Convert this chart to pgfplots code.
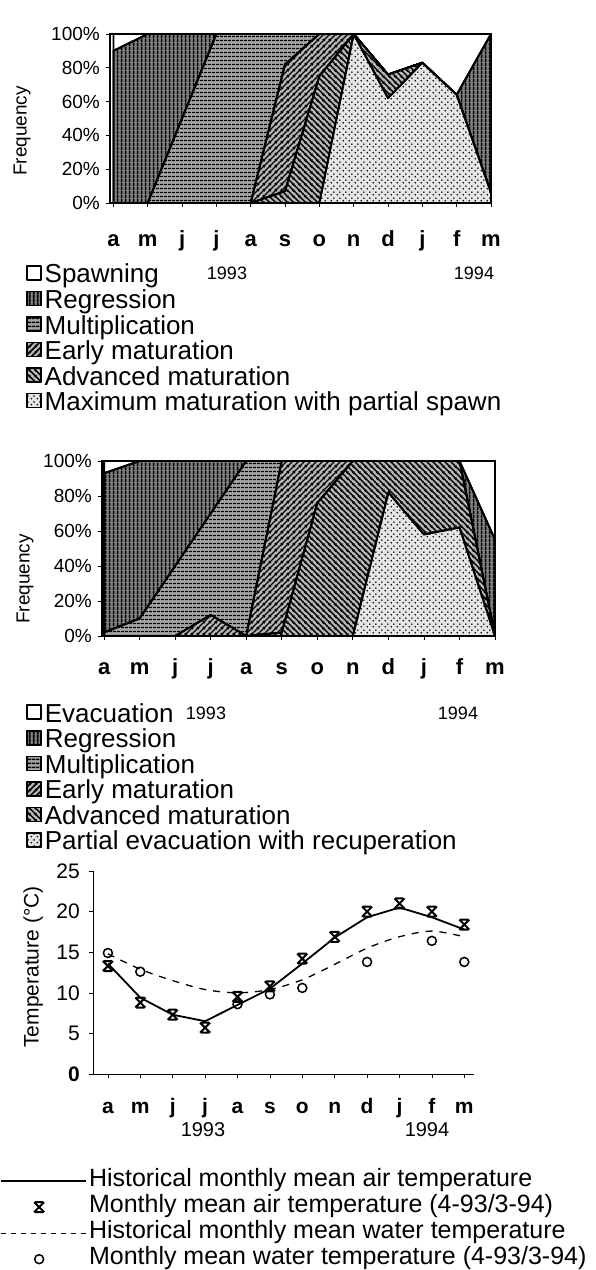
\documentclass[border=0pt]{standalone}
\usepackage{fontspec}
\setmainfont{Liberation Sans}
\usepackage{pgfplots}
\usepackage{pgfplotstable}
\pgfplotsset{compat=1.18}
\usetikzlibrary{patterns}
\newcommand{\fs}[1]{\fontsize{#1}{#1}\selectfont}

\pgfdeclareplotmark{hg}{%
  \pgfpathmoveto{\pgfqpoint{-\pgfplotmarksize}{\pgfplotmarksize}}%
  \pgfpathlineto{\pgfqpoint{\pgfplotmarksize}{-\pgfplotmarksize}}%
  \pgfpathmoveto{\pgfqpoint{\pgfplotmarksize}{\pgfplotmarksize}}%
  \pgfpathlineto{\pgfqpoint{-\pgfplotmarksize}{-\pgfplotmarksize}}%
  \pgfpathmoveto{\pgfqpoint{-0.8\pgfplotmarksize}{\pgfplotmarksize}}%
  \pgfpathlineto{\pgfqpoint{0.8\pgfplotmarksize}{\pgfplotmarksize}}%
  \pgfpathmoveto{\pgfqpoint{-0.8\pgfplotmarksize}{-\pgfplotmarksize}}%
  \pgfpathlineto{\pgfqpoint{0.8\pgfplotmarksize}{-\pgfplotmarksize}}%
  \pgfusepathqstroke}

% hand-made patterns
\pgfdeclarepatternformonly{myvlines}{\pgfqpoint{0pt}{0pt}}{\pgfqpoint{4pt}{4pt}}{\pgfqpoint{4pt}{4pt}}{%
  \pgfpathrectangle{\pgfqpoint{1pt}{-0.2pt}}{\pgfqpoint{2.1pt}{4.4pt}}\pgfusepath{fill}}
\pgfdeclarepatternformonly{myhlines}{\pgfqpoint{0pt}{0pt}}{\pgfqpoint{3.5pt}{3.5pt}}{\pgfqpoint{3.5pt}{3.5pt}}{%
  \pgfpathrectangle{\pgfqpoint{-0.2pt}{1.1pt}}{\pgfqpoint{3.9pt}{1.4pt}}\pgfusepath{fill}}
\pgfdeclarepatternformonly{myne}{\pgfqpoint{0pt}{0pt}}{\pgfqpoint{6pt}{6pt}}{\pgfqpoint{6pt}{6pt}}{%
  \pgfsetlinewidth{1.6pt}%
  \pgfpathmoveto{\pgfqpoint{-1pt}{-1pt}}\pgfpathlineto{\pgfqpoint{7pt}{7pt}}%
  \pgfpathmoveto{\pgfqpoint{-1pt}{5pt}}\pgfpathlineto{\pgfqpoint{1pt}{7pt}}%
  \pgfpathmoveto{\pgfqpoint{5pt}{-1pt}}\pgfpathlineto{\pgfqpoint{7pt}{1pt}}%
  \pgfusepath{stroke}}
\pgfdeclarepatternformonly{mynw}{\pgfqpoint{0pt}{0pt}}{\pgfqpoint{6pt}{6pt}}{\pgfqpoint{6pt}{6pt}}{%
  \pgfsetlinewidth{1.6pt}%
  \pgfpathmoveto{\pgfqpoint{-1pt}{7pt}}\pgfpathlineto{\pgfqpoint{7pt}{-1pt}}%
  \pgfpathmoveto{\pgfqpoint{-1pt}{1pt}}\pgfpathlineto{\pgfqpoint{1pt}{-1pt}}%
  \pgfpathmoveto{\pgfqpoint{5pt}{7pt}}\pgfpathlineto{\pgfqpoint{7pt}{5pt}}%
  \pgfusepath{stroke}}
\pgfdeclarepatternformonly{mydots}{\pgfqpoint{0pt}{0pt}}{\pgfqpoint{6pt}{6pt}}{\pgfqpoint{6pt}{6pt}}{%
  \pgfpathcircle{\pgfqpoint{1.5pt}{1.5pt}}{1pt}%
  \pgfpathcircle{\pgfqpoint{4.5pt}{4.5pt}}{1pt}%
  \pgfusepath{fill}}

\tikzset{
  pWhite/.style={fill=white},
  pRegr/.style={fill=black!50, postaction={pattern=myvlines}},
  pMult/.style={fill=black!35, postaction={pattern=myhlines}},
  pEarly/.style={fill=black!28, postaction={pattern=myne}},
  pAdv/.style={fill=black!28, postaction={pattern=mynw}},
  pDots/.style={fill=black!10, postaction={pattern=mydots}},
}

\pgfplotstableread{
x dots adv early mult regr spawn
0 0 0 0 0 90 10
1 0 0 0 0 100 0
2 0 0 0 50 50 0
3 0 0 0 100 0 0
4 0 0 0 100 0 0
5 0 7 75 18 0 0
6 0 75 25 0 0 0
7 100 0 0 0 0 0
8 62 14 0 0 0 24
9 83 0 0 0 0 17
10 64 0 0 0 0 36
11 6 0 0 0 94 0
}\females

\pgfplotstableread{
x dots adv early mult regr evac
0 0 0 0 2 91 7
1 0 0 0 10 90 0
2 0 0 0 40 60 0
3 0 0 12 58 30 0
4 0 0 0 100 0 0
5 0 2 98 0 0 0
6 0 76 24 0 0 0
7 0 100 0 0 0 0
8 82 18 0 0 0 0
9 58 42 0 0 0 0
10 62 38 0 0 0 0
11 0 0 0 0 55 45
}\males

\pgfplotsset{
  boxleg/.style={legend image code/.code={\draw[##1,line width=1.5pt] (0pt,-2pt) rectangle (14pt,12pt);}},
  lineleg/.style={legend image code/.code={\draw[##1] (0pt,0pt) -- (85pt,0pt);}},
  dashleg/.style={legend image code/.code={\draw[##1, dash pattern=on 5pt off 5pt] (0pt,0pt) -- (85pt,0pt);}},
  markleg/.style={legend image code/.code={\path[draw=none,fill=none] (0pt,0pt) -- (85pt,0pt); \draw[##1] plot coordinates {(38pt,0pt)};}},
  stagechart/.style={
    anchor=south west, scale only axis,
    ymin=0, ymax=100, xmax=11,
    stack plots=y,
    axis on top,
    tick align=outside, tick pos=left,
    major tick length=4pt,
    axis line style={line width=1.3pt},
    every tick/.style={black, line width=0.8pt},
    ytick={0,20,...,100},
    yticklabels={0\%,20\%,40\%,60\%,80\%,100\%},
    yticklabel style={font=\fs{19}, anchor=east, inner sep=0pt, xshift=-6pt},
    xtick={0,...,11},
    xticklabels={a,m,j,j,a,s,o,n,d,j,f,m},
    xticklabel style={font=\fs{22}\bfseries, anchor=base, inner sep=0pt},
    ylabel={Frequency},
    ylabel style={font=\fs{19}, anchor=center, rotate=0},
    legend cell align=left,
    reverse legend,
    boxleg,
    legend style={draw=none, fill=none, inner sep=0pt, font=\fs{26},
      row sep=0.8pt,
      nodes={inner sep=0pt, text height=17pt, text depth=7pt},
      /tikz/every odd column/.append style={column sep=3pt}},
    every axis plot/.append style={mark=none, draw=black, line width=1.8pt, line join=round},
  },
}

\begin{document}
\begin{tikzpicture}
\path[use as bounding box] (0pt,0pt) rectangle (596pt,1270pt);

% ---------------- females ----------------
\begin{axis}[stagechart,
  at={(110pt,1067pt)}, width=381pt, height=169pt, xmin=-0.1,
  xticklabel style={yshift=-40pt},
  ylabel style={at={(axis description cs:-0.231,0.426)}},
  legend style={at={(axis description cs:-0.2205,-0.367)}, anchor=north west},
]
\addplot[pDots] table[x=x,y=dots] {\females} \closedcycle;
\addplot[pAdv] table[x=x,y=adv] {\females} \closedcycle;
\addplot[pEarly] table[x=x,y=early] {\females} \closedcycle;
\addplot[pMult] table[x=x,y=mult] {\females} \closedcycle;
\addplot[pRegr] table[x=x,y=regr] {\females} \closedcycle;
\addplot[pWhite] table[x=x,y=spawn] {\females} \closedcycle;
\legend{Maximum maturation with partial spawn,Advanced maturation,Early maturation,Multiplication,Regression,Spawning}
\node[font=\fs{19}, anchor=center] at (axis description cs:0.1,1.077) {females};
\end{axis}

% ---------------- males ----------------
\begin{axis}[stagechart,
  at={(102pt,634pt)}, width=393pt, height=175pt, xmin=-0.06,
  xticklabel style={yshift=-35pt},
  ylabel style={at={(axis description cs:-0.196,0.326)}},
  legend style={at={(axis description cs:-0.193,-0.39)}, anchor=north west},
]
\addplot[pDots] table[x=x,y=dots] {\males} \closedcycle;
\addplot[pAdv] table[x=x,y=adv] {\males} \closedcycle;
\addplot[pEarly] table[x=x,y=early] {\males} \closedcycle;
\addplot[pMult] table[x=x,y=mult] {\males} \closedcycle;
\addplot[pRegr] table[x=x,y=regr] {\males} \closedcycle;
\addplot[pWhite] table[x=x,y=evac] {\males} \closedcycle;
\legend{Partial evacuation with recuperation,Advanced maturation,Early maturation,Multiplication,Regression,Evacuation}
\node[font=\fs{19}, anchor=center] at (axis description cs:0.079,1.08) {males};
\end{axis}

% ---------------- temperature ----------------
\begin{axis}[
  at={(93pt,196pt)}, anchor=south west, scale only axis,
  width=381pt, height=203pt,
  xmin=-0.46, xmax=11.3, ymin=0, ymax=25,
  axis x line*=bottom, axis y line*=left,
  x axis line style={-, line width=0.5pt},
  y axis line style={-, line width=0.8pt},
  tick align=outside,
  major tick length=4pt,
  every tick/.style={black, line width=0.6pt},
  ytick={0,5,...,25},
  yticklabels={\textbf{0},5,10,15,20,25},
  yticklabel style={font=\fs{21}, anchor=east, inner sep=0pt, xshift=-9pt},
  xtick={0,...,11},
  xticklabels={a,m,j,j,a,s,o,n,d,j,f,m},
  xticklabel style={font=\fs{21}\bfseries, anchor=base, inner sep=0pt, yshift=-35pt},
  ylabel={Temperature (°C)},
  ylabel style={font=\fs{21}, anchor=center, at={(axis description cs:-0.157,0.527)}},
  clip=false,
  legend cell align=left,
  legend style={draw=none, fill=none, inner sep=0pt, font=\fs{25},
    at={(axis description cs:-0.244,-0.463)}, anchor=north west,
    row sep=0pt,
    nodes={inner sep=0pt, text height=18pt, text depth=8pt},
    /tikz/every odd column/.append style={column sep=2pt}},
]
\addplot[black, line width=1.8pt, mark=none, lineleg]
  coordinates {(0,13.6) (1,9.4) (2,7.3) (3,6.5) (4,8.5) (5,10.5) (6,13.6) (7,16.8) (8,19.3) (9,20.5) (10,19.3) (11,17.8)};
\addplot[black, only marks, mark=hg, mark size=5pt, line width=2pt, markleg]
  coordinates {(0,13.3) (1,8.8) (2,7.3) (3,5.7) (4,9.5) (5,10.8) (6,14.2) (7,16.9) (8,20.0) (9,21.0) (10,20.0) (11,18.4)};
\addplot[black, line width=1.3pt, mark=none, smooth, dash pattern=on 7pt off 7pt, dashleg]
  coordinates {(0,14.8) (1,12.9) (2,11.5) (3,10.4) (4,10.0) (5,10.4) (6,11.6) (7,13.5) (8,15.5) (9,16.9) (10,17.6) (11,16.9)};
\addplot[black, only marks, mark=o, mark size=4.5pt, line width=1.5pt, markleg]
  coordinates {(0,14.9) (1,12.6) (4,8.6) (5,9.8) (6,10.6) (8,13.8) (10,16.4) (11,13.8)};
\legend{Historical monthly mean air temperature,Monthly mean air temperature (4-93/3-94),Historical monthly mean water temperature,Monthly mean water temperature (4-93/3-94)}
\end{axis}

% year labels
\node[font=\fs{18}] at (227pt,997pt) {1993};
\node[font=\fs{18}] at (474pt,997pt) {1994};
\node[font=\fs{18}] at (206pt,557pt) {1993};
\node[font=\fs{18}] at (458pt,557pt) {1994};
\node[font=\fs{20}] at (203pt,140pt) {1993};
\node[font=\fs{20}] at (427pt,140pt) {1994};
\end{tikzpicture}
\end{document}
